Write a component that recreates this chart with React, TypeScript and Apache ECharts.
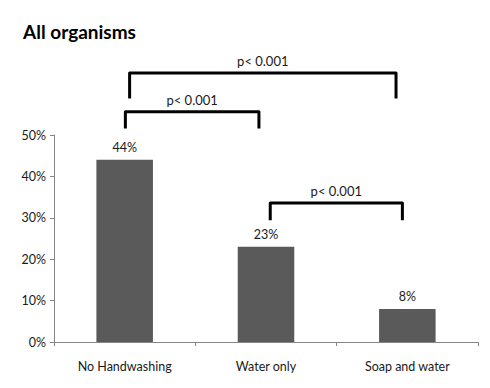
import React, { useEffect, useRef } from "react";
import * as echarts from "echarts";

const categories = ["No Handwashing", "Water only", "Soap and water"];
const values = [44, 23, 8];
const yTicks = [0, 10, 20, 30, 40, 50];
// brackets: [fromCategory, toCategory, barValue(%), legEndValue(%), fromShift, toShift, label]
const bracketFrom = [0, 0, 1];
const bracketTo = [2, 1, 2];
const bracketTop = [65, 55.6, 33.6];
const bracketLeg = [58.8, 51.6, 29.4];
const bracketFromShift = [0.035, 0.005, 0.03];
const bracketToShift = [-0.08, -0.05, -0.035];
const bracketLabels = ["p< 0.001", "p< 0.001", "p< 0.001"];

const FONT = "Lato, 'Open Sans', sans-serif";

export default function App() {
  const ref = useRef<HTMLDivElement>(null);
  useEffect(() => {
    if (!ref.current) return;
    const chart = echarts.init(ref.current, undefined, { renderer: "svg" });
    const bracketData = bracketFrom.map((f, i) => [
      f,
      bracketTo[i],
      bracketTop[i],
      bracketLeg[i],
      bracketFromShift[i],
      bracketToShift[i],
    ]);
    chart.setOption({
      animation: false,
      backgroundColor: "#ffffff",
      title: {
        text: "All organisms",
        left: 18,
        top: 17,
        textStyle: {
          fontFamily: FONT,
          fontWeight: "bold",
          fontSize: 19,
          color: "#000000",
        },
      },
      grid: { left: 54, right: 12, top: 135, bottom: 46, containLabel: false },
      xAxis: {
        type: "category",
        data: categories,
        axisLine: { lineStyle: { color: "#868686", width: 1 } },
        axisTick: { show: true, length: 4, lineStyle: { color: "#868686" } },
        axisLabel: {
          margin: 18,
          fontFamily: FONT,
          fontSize: 12.5,
          color: "#1a1a1a",
        },
      },
      yAxis: {
        type: "value",
        min: 0,
        max: 50,
        interval: 10,
        axisLine: { show: true, lineStyle: { color: "#868686", width: 1 } },
        axisTick: { show: true, length: 4, lineStyle: { color: "#868686" } },
        splitLine: { show: false },
        axisLabel: {
          margin: 8,
          fontFamily: FONT,
          fontSize: 12.5,
          color: "#1a1a1a",
          formatter: (v: number) => (yTicks.includes(v) ? v + "%" : ""),
        },
      },
      series: [
        {
          type: "bar",
          data: values,
          barWidth: "40%",
          itemStyle: { color: "#5a5a5a" },
          label: {
            show: true,
            position: "top",
            distance: 6,
            formatter: "{c}%",
            fontFamily: FONT,
            fontSize: 12.5,
            color: "#1a1a1a",
          },
        },
        {
          type: "custom",
          clip: false,
          silent: true,
          z: 10,
          data: bracketData,
          renderItem: (params: any, api: any) => {
            const band = api.size([1, 0])[0];
            const a = api.coord([api.value(0), api.value(2)]);
            const b = api.coord([api.value(1), api.value(2)]);
            const legA = api.coord([api.value(0), api.value(3)]);
            const x1 = a[0] + api.value(4) * band;
            const x2 = b[0] + api.value(5) * band;
            const yTop = a[1];
            const yLeg = legA[1];
            return {
              type: "group",
              children: [
                {
                  type: "polyline",
                  shape: {
                    points: [
                      [x1, yLeg],
                      [x1, yTop],
                      [x2, yTop],
                      [x2, yLeg],
                    ],
                  },
                  style: {
                    stroke: "#000000",
                    lineWidth: 3,
                    fill: null,
                    lineJoin: "round",
                  },
                },
                {
                  type: "text",
                  style: {
                    text: bracketLabels[params.dataIndex],
                    x: (x1 + x2) / 2,
                    y: yTop - 5,
                    align: "center",
                    verticalAlign: "bottom",
                    fontFamily: FONT,
                    fontSize: 13,
                    fill: "#1a1a1a",
                  },
                },
              ],
            };
          },
        },
      ],
    });
    return () => chart.dispose();
  }, []);
  return <div ref={ref} style={{ width: 490, height: 388, position: "absolute", left: 0, top: 0 }} />;
}
